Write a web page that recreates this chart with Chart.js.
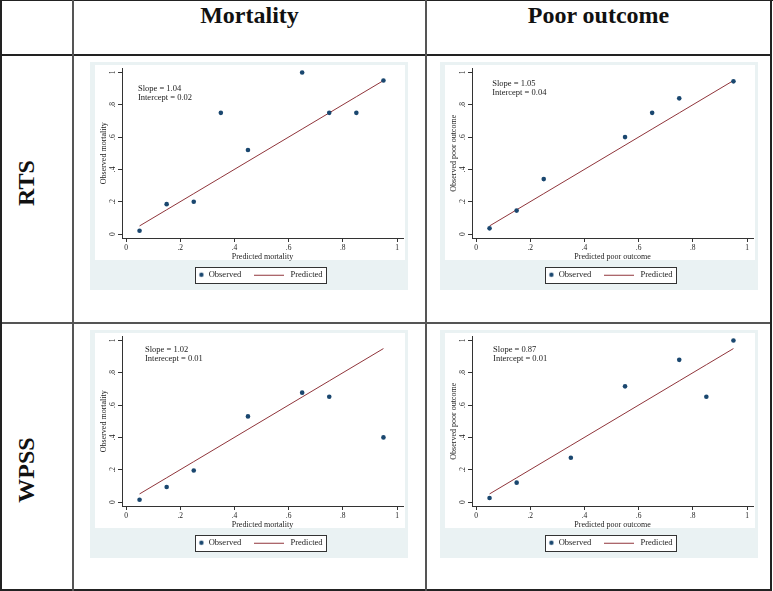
<!DOCTYPE html>
<html>
<head>
<meta charset="utf-8">
<script src="https://cdn.jsdelivr.net/npm/chart.js@4.4.0/dist/chart.umd.min.js"></script>
<style>
  body { margin: 0; background: #fff; width: 773px; height: 591px; position: relative; overflow: hidden; font-family: "Liberation Serif", serif; }
  .ln { position: absolute; background: #222; }
  .hd { position: absolute; top: 1px; font-weight: bold; font-size: 24px; line-height: 28px; text-align: center; color: #111; }
  .rl { position: absolute; font-weight: bold; font-size: 24px; line-height: 1; color: #111; white-space: nowrap; transform: translate(-50%, -50%) rotate(-90deg); }
  canvas { position: absolute; }
</style>
</head>
<body>
<div class="ln" style="left:0;top:0;width:773px;height:1px"></div>
<div class="ln" style="left:0;top:54px;width:772px;height:2px"></div>
<div class="ln" style="left:0;top:322px;width:772px;height:2px;background:#555"></div>
<div class="ln" style="left:0;top:589px;width:772px;height:2px"></div>
<div class="ln" style="left:0;top:0;width:2px;height:591px"></div>
<div class="ln" style="left:72px;top:0;width:2px;height:591px;background:#555"></div>
<div class="ln" style="left:425px;top:0;width:2px;height:591px;background:#555"></div>
<div class="ln" style="left:770px;top:0;width:2px;height:591px"></div>

<div class="hd" style="left:73px;width:353px">Mortality</div>
<div class="hd" style="left:427px;width:343px">Poor outcome</div>
<div class="rl" style="left:26px;top:183px">RTS</div>
<div class="rl" style="left:26px;top:470px">WPSS</div>

<canvas id="p1" width="318" height="228" style="left:90px;top:62px"></canvas>
<canvas id="p2" width="318" height="228" style="left:440px;top:62px"></canvas>
<canvas id="p3" width="318" height="228" style="left:90px;top:330px"></canvas>
<canvas id="p4" width="318" height="228" style="left:440px;top:330px"></canvas>

<script>
// decile midpoints (predicted) and observed proportions
const tickVals = [0, 0.2, 0.4, 0.6, 0.8, 1];

const rtsMortX   = [0.05, 0.15, 0.25, 0.35, 0.45, 0.65, 0.75, 0.85, 0.95];
const rtsMortObs = [0.02, 0.185, 0.20, 0.75, 0.52, 1.00, 0.75, 0.75, 0.95];

const rtsPoorX   = [0.05, 0.15, 0.25, 0.55, 0.65, 0.75, 0.95];
const rtsPoorObs = [0.035, 0.145, 0.34, 0.60, 0.75, 0.84, 0.945];

const wpssMortX   = [0.05, 0.15, 0.25, 0.45, 0.65, 0.75, 0.95];
const wpssMortObs = [0.014, 0.093, 0.195, 0.53, 0.677, 0.652, 0.40];

const wpssPoorX   = [0.05, 0.15, 0.35, 0.55, 0.75, 0.85, 0.95];
const wpssPoorObs = [0.025, 0.12, 0.274, 0.716, 0.88, 0.652, 1.00];

const navy = '#1a476f';
const maroon = '#90353b';
const axisColor = '#333';
const txtColor = '#222';
const serif = '"Liberation Serif", serif';

const panels = [
  { id: 'p1', x: rtsMortX, obs: rtsMortObs, xTitle: 'Predicted mortality', yTitle: 'Observed mortality',
    note: ['Slope = 1.04', 'Intercept = 0.02'], noteAt: [0.044, 0.90] },
  { id: 'p2', x: rtsPoorX, obs: rtsPoorObs, xTitle: 'Predicted poor outcome', yTitle: 'Observed poor outcome',
    note: ['Slope = 1.05', 'Intercept = 0.04'], noteAt: [0.06, 0.93] },
  { id: 'p3', x: wpssMortX, obs: wpssMortObs, xTitle: 'Predicted mortality', yTitle: 'Observed mortality',
    note: ['Slope = 1.02', 'Interecept = 0.01'], noteAt: [0.07, 0.94] },
  { id: 'p4', x: wpssPoorX, obs: wpssPoorObs, xTitle: 'Predicted poor outcome', yTitle: 'Observed poor outcome',
    note: ['Slope = 0.87', 'Intercept = 0.01'], noteAt: [0.063, 0.94] }
];

// legend markers
function dotMarker() {
  const c = document.createElement('canvas');
  c.width = 34; c.height = 8;
  const g = c.getContext('2d');
  g.fillStyle = navy;
  g.beginPath(); g.arc(31, 4, 2.2, 0, Math.PI * 2); g.fill();
  return c;
}
function lineMarker() {
  const c = document.createElement('canvas');
  c.width = 30; c.height = 4;
  const g = c.getContext('2d');
  g.strokeStyle = maroon; g.lineWidth = 1;
  g.beginPath(); g.moveTo(0, 2.5); g.lineTo(30, 2.5); g.stroke();
  return c;
}
const markers = [dotMarker(), lineMarker()];

const fmt = v => v === 0 ? '0' : v === 1 ? '1' : v.toFixed(1).replace(/^0/, '');

const panelBg = {
  id: 'panelBg',
  beforeDraw(chart) {
    const { ctx, width, height } = chart;
    ctx.save();
    ctx.fillStyle = '#eaf2f3';
    ctx.fillRect(0, 0, width, height);
    ctx.fillStyle = '#fff';
    ctx.fillRect(5, 3, width - 8, 195);
    const hb = chart.legend.legendHitBoxes;
    if (hb && hb.length) {
      const a = hb[0], b = hb[hb.length - 1];
      const l = Math.round(a.left + 25) + 0.5, r = Math.round(b.left + b.width + 3) + 0.5;
      const t = Math.round(a.top - 4) + 0.5, bt = Math.round(a.top + a.height + 4) + 0.5;
      ctx.fillRect(l, t, r - l, bt - t);
      ctx.strokeStyle = axisColor; ctx.lineWidth = 1;
      ctx.strokeRect(l, t, r - l, bt - t);
    }
    ctx.restore();
  }
};

const noteText = {
  id: 'noteText',
  afterDraw(chart, args, opts) {
    const { ctx, scales: { x, y } } = chart;
    ctx.save();
    ctx.font = '8.5px ' + serif;
    ctx.fillStyle = txtColor;
    ctx.textBaseline = 'middle';
    opts.lines.forEach((t, i) => {
      ctx.fillText(t, x.getPixelForValue(opts.at[0]), y.getPixelForValue(opts.at[1]) + i * 9);
    });
    ctx.restore();
  }
};

panels.forEach(p => {
  new Chart(document.getElementById(p.id), {
    data: {
      datasets: [
        {
          type: 'scatter', label: 'Observed', order: 1,
          data: p.x.map((v, i) => ({ x: v, y: p.obs[i] })),
          backgroundColor: navy, borderWidth: 0, pointRadius: 2.3
        },
        {
          type: 'line', label: 'Predicted', order: 2,
          data: p.x.map(v => ({ x: v, y: v })),
          borderColor: maroon, borderWidth: 1, pointRadius: 0, fill: false
        }
      ]
    },
    options: {
      responsive: false,
      animation: false,
      events: [],
      layout: { padding: { left: 0, right: 5, top: 6, bottom: 1 } },
      scales: {
        x: {
          type: 'linear', min: -4 / 271, max: 1 + 6 / 271,
          afterBuildTicks: s => { s.ticks = tickVals.map(v => ({ value: v })); },
          afterFit: s => { s.height = 21.5; },
          grid: { drawOnChartArea: false, tickLength: 4, color: axisColor },
          border: { color: axisColor },
          ticks: { font: { family: serif, size: 7.5 }, color: txtColor, padding: 2, maxRotation: 0, callback: fmt },
          title: { display: true, text: p.xTitle, color: txtColor, font: { family: serif, size: 8, lineHeight: 1 }, padding: { top: 0, bottom: -1.5 } }
        },
        y: {
          type: 'linear', min: -4 / 162, max: 1 + 4 / 162,
          afterBuildTicks: s => { s.ticks = tickVals.map(v => ({ value: v })); },
          afterFit: s => { s.width = 32; },
          grid: { drawOnChartArea: false, tickLength: 4, color: axisColor },
          border: { color: axisColor },
          ticks: { font: { family: serif, size: 7.5 }, color: txtColor, padding: 2, minRotation: 90, maxRotation: 90, crossAlign: 'center', callback: fmt },
          title: { display: true, text: p.yTitle, color: txtColor, font: { family: serif, size: 8 }, padding: { top: 9, bottom: 0 } }
        }
      },
      plugins: {
        legend: {
          position: 'bottom',
          labels: {
            usePointStyle: true, pointStyleWidth: 34, padding: 11, color: txtColor,
            font: { family: serif, size: 8.5 },
            generateLabels: chart => chart.data.datasets.map((ds, i) => ({
              text: ds.label, datasetIndex: i, hidden: false, pointStyle: markers[i],
              fillStyle: 'rgba(0,0,0,0)', strokeStyle: 'rgba(0,0,0,0)', lineWidth: 0, fontColor: txtColor
            }))
          }
        },
        tooltip: { enabled: false },
        noteText: { lines: p.note, at: p.noteAt }
      }
    },
    plugins: [panelBg, noteText]
  });
});
</script>
</body>
</html>
